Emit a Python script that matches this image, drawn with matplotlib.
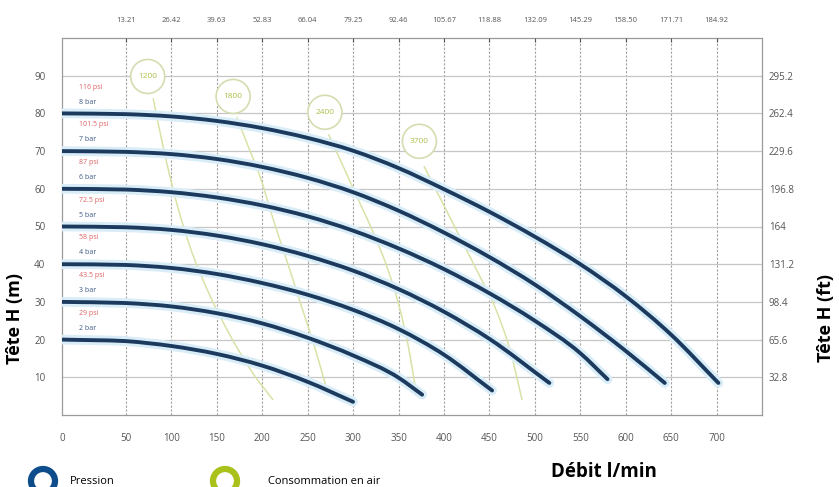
import numpy as np
import matplotlib
matplotlib.use("Agg")
import matplotlib.pyplot as plt
from matplotlib.patches import Ellipse, PathPatch
from matplotlib.path import Path

# ---------------- data ----------------
flow_ticks = [0, 50, 100, 150, 200, 250, 300, 350, 400, 450, 500, 550, 600, 650, 700]
gpm_labels = ["13.21", "26.42", "39.63", "52.83", "66.04", "79.25", "92.46", "105.67",
              "118.88", "132.09", "145.29", "158.50", "171.71", "184.92"]
head_m_ticks = [10, 20, 30, 40, 50, 60, 70, 80, 90]
head_ft_labels = ["32.8", "65.6", "98.4", "131.2", "164", "196.8", "229.6", "262.4", "295.2"]

q_2bar = [0, 50, 100, 150, 200, 250, 300]
h_2bar = [20, 19.6, 18.3, 16.2, 13.1, 8.8, 3.5]
q_3bar = [0, 50, 100, 150, 200, 250, 300, 350, 376]
h_3bar = [30, 29.7, 28.8, 27.0, 24.3, 20.5, 15.8, 9.9, 5.4]
q_4bar = [0, 50, 100, 150, 200, 250, 300, 350, 400, 453]
h_4bar = [40, 39.8, 39.0, 37.4, 35.0, 31.9, 27.9, 22.8, 16.0, 6.5]
q_5bar = [0, 50, 100, 150, 200, 250, 300, 350, 400, 450, 516]
h_5bar = [50, 49.8, 49.1, 47.6, 45.3, 42.2, 38.3, 33.4, 27.4, 20.2, 8.5]
q_6bar = [0, 50, 100, 150, 200, 250, 300, 350, 400, 450, 500, 550, 580]
h_6bar = [60, 59.8, 59.1, 57.7, 55.6, 52.7, 48.9, 44.2, 38.7, 32.3, 25.0, 16.4, 9.5]
q_7bar = [0, 50, 100, 150, 200, 250, 300, 350, 400, 450, 500, 550, 600, 643]
h_7bar = [70, 69.8, 69.2, 67.9, 65.8, 62.9, 59.1, 54.2, 48.4, 41.9, 34.6, 26.2, 17.0, 8.5]
q_8bar = [0, 50, 100, 150, 200, 250, 300, 350, 400, 450, 500, 550, 600, 650, 702]
h_8bar = [80, 79.8, 79.2, 78.0, 76.1, 73.5, 70.1, 65.5, 59.9, 53.9, 47.3, 40.0, 31.5, 21.3, 8.5]

pressure_curves = [(q_2bar, h_2bar), (q_3bar, h_3bar), (q_4bar, h_4bar), (q_5bar, h_5bar),
                   (q_6bar, h_6bar), (q_7bar, h_7bar), (q_8bar, h_8bar)]
bar_labels = ["2 bar", "3 bar", "4 bar", "5 bar", "6 bar", "7 bar", "8 bar"]
psi_labels = ["29 psi", "43.5 psi", "58 psi", "72.5 psi", "87 psi", "101.5 psi", "116 psi"]
shutoff_heads = [20, 30, 40, 50, 60, 70, 80]

air_names = ["1200", "1800", "2400", "3700"]
air_label_q = [74, 168, 269, 373]
air_label_h = [89.8, 84.5, 80.3, 72.6]
air_q_1200 = [80, 92, 105, 120, 140, 165, 190, 212]
air_h_1200 = [84, 70, 57, 45, 33, 21, 11, 4]
air_q_1800 = [172, 185, 198, 212, 227, 243, 259, 272]
air_h_1800 = [79, 71, 63, 52, 41, 29, 17, 6]
air_q_2400 = [273, 290, 306, 322, 337, 350, 361, 370]
air_h_2400 = [74.5, 65.5, 57, 48.5, 39.5, 29.5, 18, 5]
air_q_3700 = [378, 398, 418, 438, 458, 473, 486]
air_h_3700 = [66, 56.5, 47, 37.5, 27.5, 17, 4]
air_curves = [(air_q_1200, air_h_1200), (air_q_1800, air_h_1800),
              (air_q_2400, air_h_2400), (air_q_3700, air_h_3700)]

# ---------------- style ----------------
NAVY = "#1c3a5e"
GLOW = "#d9edf8"
AIR = "#d9e2a6"
AIR_TXT = "#a9c04a"
GRAY_TXT = "#555555"
plt.rcParams["font.family"] = ["Open Sans", "DejaVu Sans"]

# piecewise-linear flow scale (first interval is wider in the original chart)
K = 70.3 / 50.0
OFF = 70.3 - 50.0
def fwd(x):
    x = np.asarray(x, dtype=float)
    return np.where(x < 50, x * K, x + OFF)
def inv(y):
    y = np.asarray(y, dtype=float)
    return np.where(y < 70.3, y / K, y - OFF)


def smooth_path(xs, ys):
    """Smooth cubic (Hermite, non-uniform spacing) curve through the points, as Bezier segments."""
    x = np.asarray(xs, dtype=float)
    y = np.asarray(ys, dtype=float)
    h = np.diff(x)
    d = np.diff(y) / h
    m = np.empty_like(y)
    m[0] = d[0]
    m[-1] = d[-1]
    for i in range(1, len(x) - 1):
        m[i] = (d[i - 1] * h[i] + d[i] * h[i - 1]) / (h[i - 1] + h[i])
    verts = [(x[0], y[0])]
    codes = [Path.MOVETO]
    for i in range(len(x) - 1):
        dx = h[i] / 3.0
        verts += [(x[i] + dx, y[i] + m[i] * dx), (x[i + 1] - dx, y[i + 1] - m[i + 1] * dx),
                  (x[i + 1], y[i + 1])]
        codes += [Path.CURVE4] * 3
    return Path(np.array(verts), codes)


fig = plt.figure(figsize=(8.39, 4.87), dpi=100)
ax = fig.add_axes([62 / 839, 1 - 415 / 487, 700 / 839, 377 / 487])
ax.set_xscale("function", functions=(fwd, inv))
ax.set_xlim(0, 750)
ax.set_ylim(0, 100)

# grid
for q in flow_ticks[1:]:
    ax.axvline(q, color="#a0a0a0", lw=0.8, ls=(0, (2, 1.5)), zorder=1)
for h in head_m_ticks:
    ax.axhline(h, color="#c6c6c6", lw=0.9, zorder=1)

# air consumption lines
for (aq, ah) in air_curves:
    ax.add_patch(PathPatch(smooth_path(aq, ah), facecolor="none", edgecolor=AIR, lw=1.1, zorder=2))

# pressure curves
for (q, h) in pressure_curves:
    path = smooth_path(q, h)
    ax.add_patch(PathPatch(path, facecolor="none", edgecolor=GLOW, lw=7, capstyle="round", zorder=3))
    ax.add_patch(PathPatch(path, facecolor="none", edgecolor=NAVY, lw=2.8, capstyle="round", zorder=4))

# bar / psi labels
for h0, bl, pl in zip(shutoff_heads, bar_labels, psi_labels):
    ax.text(13, h0 + 3.0, bl, fontsize=5, color="#3d5a86", va="center", ha="left", zorder=5)
    ax.text(13, h0 + 7.0, pl, fontsize=5, color="#e06060", va="center", ha="left", zorder=5)

# air consumption circle labels
for name, q, h in zip(air_names, air_label_q, air_label_h):
    xd, yd = ax.transData.transform((q, h))
    xa, ya = ax.transAxes.inverted().transform((xd, yd))
    r_px = 17
    ax.add_patch(Ellipse((xa, ya), width=2 * r_px / 700, height=2 * r_px / 377,
                         transform=ax.transAxes, facecolor="white", edgecolor="#d3ddb0",
                         lw=1.2, zorder=6))
    ax.text(q, h, name, fontsize=6, color=AIR_TXT, ha="center", va="center", zorder=7)

# axes ticks
ax.set_xticks(flow_ticks)
ax.set_xticklabels([str(v) for v in flow_ticks])
ax.set_yticks(head_m_ticks)
ax.set_yticklabels([str(v) for v in head_m_ticks])
ax.tick_params(axis="x", length=0, labelsize=7, colors=GRAY_TXT, pad=13)
ax.tick_params(axis="y", length=0, labelsize=7, colors=GRAY_TXT, pad=12)
for s in ax.spines.values():
    s.set_color("#9a9a9a")
    s.set_linewidth(0.9)

# top axis (US gpm)
axt = ax.twiny()
axt.set_xscale("function", functions=(fwd, inv))
axt.set_xlim(0, 750)
axt.set_xticks(flow_ticks[1:])
axt.set_xticklabels(gpm_labels)
axt.tick_params(axis="x", length=3, labelsize=5.5, colors=GRAY_TXT, pad=10, direction="in")

# right axis (ft)
axr = ax.twinx()
axr.set_ylim(0, 328)
axr.set_yticks([32.8 * k for k in range(1, 10)])
axr.set_yticklabels(head_ft_labels)
axr.tick_params(axis="y", length=0, labelsize=7, colors=GRAY_TXT, pad=5)
for a in (axt, axr):
    for s in a.spines.values():
        s.set_visible(False)

# axis titles
fig.text(15 / 839, 1 - 318 / 487, "Tête H (m)", rotation=90, fontsize=13, fontweight="bold",
         ha="center", va="center", color="black")
fig.text(826 / 839, 1 - 318 / 487, "Tête H (ft)", rotation=90, fontsize=13, fontweight="bold",
         ha="center", va="center", color="black")
fig.text(604 / 839, 1 - 472 / 487, "Débit l/min", fontsize=13.5, fontweight="bold",
         ha="center", va="center", color="black")

# legend
fig.patches.append(Ellipse((43 / 839, 1 - 481 / 487), 24 / 839, 24 / 487, transform=fig.transFigure,
                           facecolor="none", edgecolor="#0f4c8c", lw=4.5))
fig.text(70 / 839, 1 - 481 / 487, "Pression", fontsize=8, ha="left", va="center")
fig.patches.append(Ellipse((225 / 839, 1 - 481 / 487), 24 / 839, 24 / 487, transform=fig.transFigure,
                           facecolor="none", edgecolor="#a9c11a", lw=4.5))
fig.text(268 / 839, 1 - 481 / 487, "Consommation en air", fontsize=8, ha="left", va="center")

fig.savefig("out.png", dpi=100)
